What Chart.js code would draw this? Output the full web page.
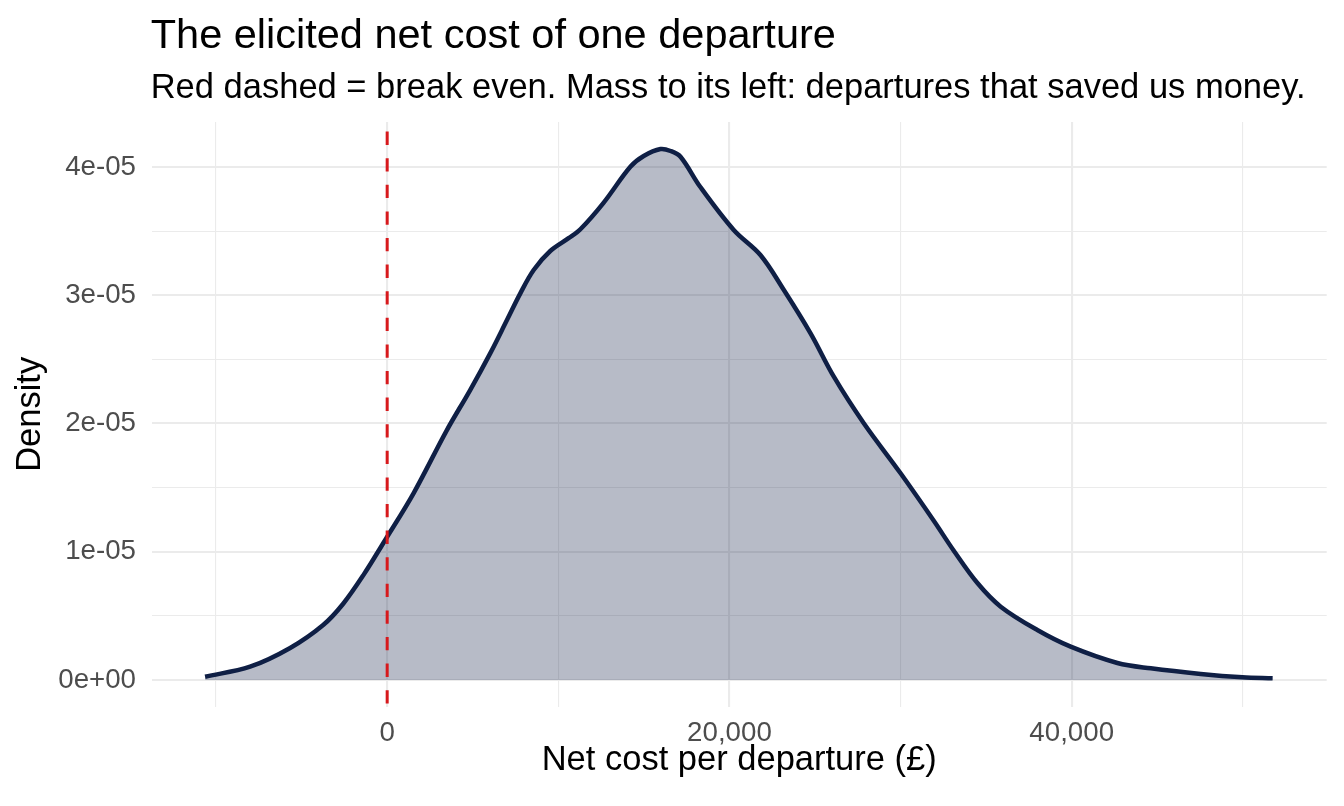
<!DOCTYPE html>
<html>
<head>
<meta charset="utf-8">
<title>Net cost of one departure</title>
<script src="https://cdn.jsdelivr.net/npm/chart.js@4.4.1/dist/chart.umd.min.js"></script>
<style>
    html, body { margin: 0; padding: 0; background: #ffffff; }
    #wrap { width: 1344px; height: 806px; }
</style>
</head>
<body>
<div id="wrap"><canvas id="densityChart" width="1344" height="806"></canvas></div>
<script>
// Net cost per departure (GBP) and the kernel density
const netCost = [-10640, -8010, -5670, -3740, -2570, -1400, 0, 1540, 3490,
    4850, 6020, 7000, 7780, 8560, 9530, 10600, 11290, 12630, 14210, 14990, 15970,
    16560, 17140, 18300, 20250, 21810, 23180, 24740, 26100, 27850, 30000, 31950, 33100,
    34490, 35850, 37990, 39940, 42670, 44620, 47540, 49980, 51740];
const density = [0.026e-5, 0.104e-5, 0.250e-5, 0.429e-5, 0.595e-5, 0.816e-5, 1.117e-5, 1.456e-5, 1.949e-5,
    2.261e-5, 2.547e-5, 2.807e-5, 3.015e-5, 3.197e-5, 3.345e-5, 3.445e-5, 3.515e-5, 3.719e-5, 4.002e-5, 4.086e-5, 4.140e-5,
    4.125e-5, 4.080e-5, 3.844e-5, 3.509e-5, 3.314e-5, 3.041e-5, 2.703e-5, 2.365e-5, 2.002e-5, 1.612e-5, 1.240e-5, 1.010e-5,
    0.756e-5, 0.572e-5, 0.390e-5, 0.260e-5, 0.133e-5, 0.091e-5, 0.047e-5, 0.021e-5, 0.013e-5];
const breakEven = 0;

const xRange = [-13760, 54900];
const yRange = [-0.208e-5, 4.351e-5];
// grid positions; only the major ones get a label
const xTicks = [-10000, 0, 10000, 20000, 30000, 40000, 50000];
const xMajor = [0, 20000, 40000];
const yTicks = [0, 0.5e-5, 1e-5, 1.5e-5, 2e-5, 2.5e-5, 3e-5, 3.5e-5, 4e-5];
const yMajor = [0, 1e-5, 2e-5, 3e-5, 4e-5];
const yLabels = ['0e+00', '1e-05', '2e-05', '3e-05', '4e-05'];

const titleText = 'The elicited net cost of one departure';
const subtitleText = 'Red dashed = break even. Mass to its left: departures that saved us money.';
const xTitle = 'Net cost per departure (\u00a3)';
const yTitle = 'Density';

const FONT = '"Liberation Sans", Arial, Helvetica, sans-serif';
const GRID = '#ebebeb';

function majorIndex(list, v) {
    return list.findIndex(m => Math.abs(m - v) < 1e-12 + Math.abs(m) * 1e-9);
}

// titles sit on the panel's left edge, like ggplot's plot.title
const headerPlugin = {
    id: 'header',
    afterDraw(chart) {
        const ctx = chart.ctx;
        const left = chart.chartArea.left;
        ctx.save();
        ctx.fillStyle = '#000000';
        ctx.textAlign = 'left';
        ctx.textBaseline = 'alphabetic';
        ctx.font = '41.5px ' + FONT;
        ctx.fillText(titleText, left - 1, 47.7);
        ctx.font = '34.5px ' + FONT;
        ctx.fillText(subtitleText, left - 1, 98.3);
        ctx.restore();
    }
};

const breakEvenPlugin = {
    id: 'breakEven',
    afterDatasetsDraw(chart) {
        const ctx = chart.ctx;
        const area = chart.chartArea;
        const x = chart.scales.x.getPixelForValue(breakEven);
        ctx.save();
        ctx.strokeStyle = '#d7191c';
        ctx.lineWidth = 3;
        ctx.setLineDash([13.3, 13.3]);
        ctx.lineDashOffset = 17;
        ctx.beginPath();
        ctx.moveTo(x, area.top);
        ctx.lineTo(x, area.bottom);
        ctx.stroke();
        ctx.restore();
    }
};

const points = netCost.map((c, i) => ({ x: c, y: density[i] }));

new Chart(document.getElementById('densityChart'), {
    type: 'line',
    data: {
        datasets: [{
            label: 'Density',
            data: points,
            borderColor: '#0f1f45',
            backgroundColor: 'rgba(15, 31, 69, 0.3)',
            borderWidth: 4.5,
            fill: 'origin',
            pointRadius: 0,
            tension: 0.35,
            borderJoinStyle: 'round',
            borderCapStyle: 'butt'
        }]
    },
    options: {
        responsive: false,
        animation: false,
        layout: { padding: { top: 122, left: 0, right: 17.3, bottom: 0 } },
        plugins: {
            legend: { display: false },
            tooltip: { enabled: false }
        },
        scales: {
            x: {
                type: 'linear',
                min: xRange[0],
                max: xRange[1],
                afterBuildTicks: s => { s.ticks = xTicks.map(v => ({ value: v })); },
                afterFit: s => { s.height = 99.3; },
                border: { display: false },
                grid: {
                    drawTicks: false,
                    color: GRID,
                    lineWidth: c => majorIndex(xMajor, c.tick.value) >= 0 ? 2.1 : 1.1
                },
                ticks: {
                    autoSkip: false,
                    maxRotation: 0,
                    padding: 9.8,
                    color: '#4d4d4d',
                    font: { family: FONT, size: 27.7 },
                    callback: v => majorIndex(xMajor, v) >= 0 ? v.toLocaleString('en-US') : ''
                },
                title: {
                    display: true,
                    text: xTitle,
                    color: '#000000',
                    font: { family: FONT, size: 34.5 },
                    padding: { top: 0, bottom: 24.6 }
                }
            },
            y: {
                type: 'linear',
                min: yRange[0],
                max: yRange[1],
                afterBuildTicks: s => { s.ticks = yTicks.map(v => ({ value: v })); },
                afterFit: s => { s.width = 151.7; },
                border: { display: false },
                grid: {
                    drawTicks: false,
                    color: GRID,
                    lineWidth: c => majorIndex(yMajor, c.tick.value) >= 0 ? 2.1 : 1.1
                },
                ticks: {
                    autoSkip: false,
                    padding: 15.7,
                    color: '#4d4d4d',
                    font: { family: FONT, size: 27.7 },
                    callback: v => {
                        const i = majorIndex(yMajor, v);
                        return i >= 0 ? yLabels[i] : '';
                    }
                },
                title: {
                    display: true,
                    text: yTitle,
                    color: '#000000',
                    font: { family: FONT, size: 34.5 },
                    padding: { top: 10, bottom: 0 }
                }
            }
        }
    },
    plugins: [headerPlugin, breakEvenPlugin]
});
</script>
</body>
</html>
